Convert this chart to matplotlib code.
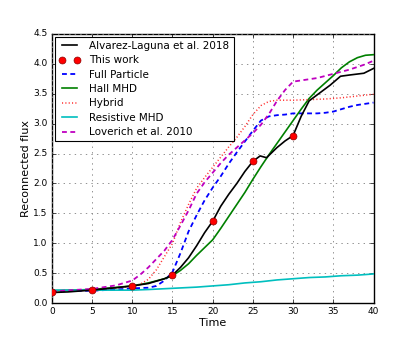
import matplotlib
matplotlib.use("Agg")
import matplotlib.pyplot as plt

plt.style.use('classic')

# Alvarez-Laguna et al. 2018
t_al = [0, 2, 5, 8, 10, 12, 14, 15, 16, 17, 18, 19, 20, 21, 22, 23, 24, 25, 25.9, 26.7,
        28, 29, 30, 31, 32, 33.4, 34.6, 35.9, 37, 38.8, 40]
f_al = [0.18, 0.19, 0.22, 0.26, 0.29, 0.33, 0.41, 0.47, 0.6, 0.76, 0.96, 1.18, 1.37, 1.62, 1.82, 2.0, 2.2, 2.37, 2.46, 2.43,
        2.6, 2.71, 2.8, 3.12, 3.38, 3.52, 3.64, 3.79, 3.81, 3.84, 3.92]

# This work
t_tw = [0, 5, 10, 15, 20, 25, 30]
f_tw = [0.19, 0.22, 0.29, 0.48, 1.37, 2.37, 2.8]

# Full Particle
t_fp = [0, 5, 8, 10, 12, 13, 14, 15, 16, 17, 18, 19, 20, 21, 22, 23, 24, 25, 26, 27, 28, 29, 30,
        31, 32, 33, 34, 35, 36, 37, 38, 40]
f_fp = [0.2, 0.21, 0.23, 0.25, 0.26, 0.29, 0.38, 0.52, 0.84, 1.2, 1.47, 1.72, 1.93, 2.12, 2.33, 2.52, 2.7, 2.88, 3.05, 3.12, 3.14, 3.15, 3.17,
        3.17, 3.17, 3.17, 3.18, 3.2, 3.24, 3.28, 3.31, 3.35]

# Hall MHD
t_hall = [0, 5, 10, 12, 14, 15, 16, 17, 18, 19, 20, 21, 22, 23, 24, 25, 26, 27, 28, 29, 30,
          31, 32, 33, 34, 35, 36, 37, 38, 39, 40]
f_hall = [0.21, 0.23, 0.29, 0.34, 0.41, 0.46, 0.55, 0.66, 0.8, 0.93, 1.06, 1.25, 1.45, 1.65, 1.85, 2.07, 2.28, 2.48, 2.67, 2.86, 3.05,
          3.24, 3.42, 3.56, 3.68, 3.8, 3.93, 4.03, 4.1, 4.14, 4.15]

# Hybrid
t_hyb = [0, 5, 10, 11, 12, 13, 14, 15, 16, 17, 18, 19, 20, 21, 22, 23, 24, 25, 26, 27, 28,
         30, 32, 34, 36, 38, 40]
f_hyb = [0.2, 0.22, 0.28, 0.32, 0.4, 0.56, 0.78, 1.0, 1.35, 1.65, 1.92, 2.1, 2.27, 2.44, 2.61, 2.77, 2.95, 3.15, 3.3, 3.37, 3.39,
         3.39, 3.4, 3.41, 3.43, 3.46, 3.49]

# Resistive MHD
t_res = [0, 5, 10, 12, 15, 18, 20, 22, 24, 26, 28, 30, 32, 34, 36, 38, 40]
f_res = [0.22, 0.22, 0.22, 0.23, 0.25, 0.27, 0.29, 0.31, 0.34, 0.36, 0.39, 0.41, 0.43, 0.44, 0.46, 0.47, 0.49]

# Loverich et al. 2010
t_lov = [0, 5, 8, 10, 11, 12, 13, 14, 15, 16, 17, 18, 19, 20, 21, 22, 23, 24, 25, 26, 27, 28, 29, 30,
         31, 33, 35, 37, 39, 40]
f_lov = [0.2, 0.24, 0.3, 0.38, 0.48, 0.6, 0.74, 0.88, 1.06, 1.3, 1.55, 1.83, 2.02, 2.18, 2.34, 2.48, 2.6, 2.72, 2.84, 2.98, 3.16, 3.38, 3.56, 3.7,
         3.72, 3.76, 3.83, 3.9, 3.99, 4.05]

fig = plt.figure(figsize=(4.15, 3.37), dpi=100)
ax = fig.add_subplot(111)
fig.subplots_adjust(left=0.125, right=0.9, bottom=0.1, top=0.9)

dash = (3.5, 2.5)
ax.plot(t_al, f_al, color='k', lw=1.2, label='Alvarez-Laguna et al. 2018', zorder=4)
ax.plot(t_tw, f_tw, 'o', color='r', mec='#8b0000', mew=0.5, ms=5, label='This work', zorder=5)
ax.plot(t_fp, f_fp, color='b', lw=1.3, dashes=dash, label='Full Particle', zorder=3)
ax.plot(t_hall, f_hall, '-', color='g', lw=1.2, label='Hall MHD', zorder=3)
ax.plot(t_hyb, f_hyb, color='#ff3030', lw=1.1, dashes=(0.8, 1.6), label='Hybrid', zorder=3)
ax.plot(t_res, f_res, '-', color='c', lw=1.2, label='Resistive MHD', zorder=3)
ax.plot(t_lov, f_lov, color='m', lw=1.3, dashes=dash, label='Loverich et al. 2010', zorder=3)

ax.set_xlim(0, 40)
ax.set_ylim(0, 4.5)
ax.set_xticks(range(0, 41, 5))
ax.set_yticks([0.0, 0.5, 1.0, 1.5, 2.0, 2.5, 3.0, 3.5, 4.0, 4.5])
ax.set_yticklabels(['%.1f' % v for v in ax.get_yticks()])
ax.tick_params(labelsize=6.5, length=3, pad=3)
ax.grid(True, color='0.5', linestyle=':', linewidth=0.6)
ax.set_xlabel('Time', fontsize=8, labelpad=1)
ax.set_ylabel('Reconnected flux', fontsize=8, labelpad=2)

leg = ax.legend(loc='upper left', fontsize=7.5, numpoints=2, handlelength=2.0,
                borderpad=0.4, labelspacing=0.42, handletextpad=0.9, borderaxespad=0.3)
leg.get_frame().set_linewidth(0.8)

fig.savefig('out.png', dpi=100)
